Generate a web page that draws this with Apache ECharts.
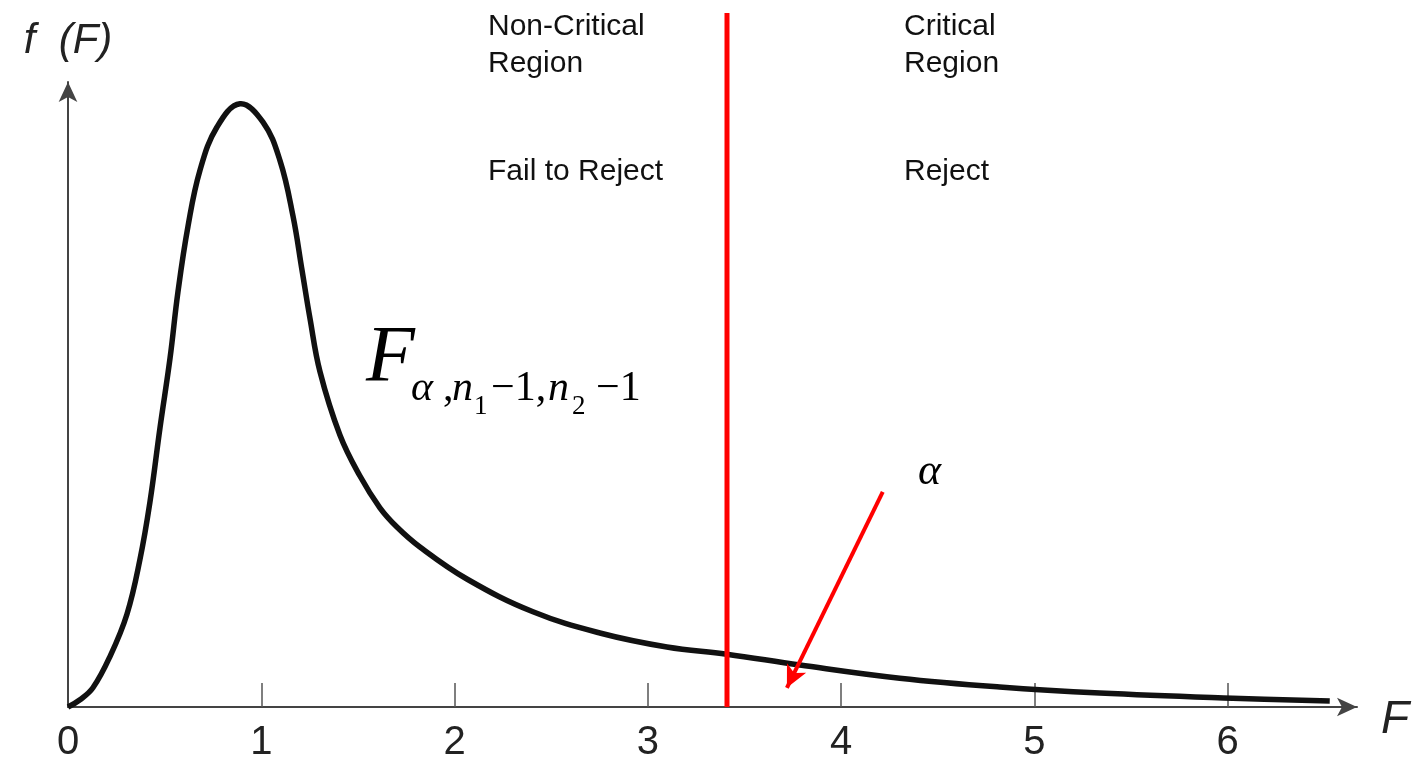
<!DOCTYPE html>
<html>
<head>
<meta charset="utf-8">
<script src="https://cdn.jsdelivr.net/npm/echarts@6/dist/echarts.min.js"></script>
<style>
html,body{margin:0;padding:0;background:#fff;}
#chart{width:1415px;height:770px;}
</style>
</head>
<body>
<div id="chart"></div>
<script>
// F-distribution density curve
const curveX = [0, 0.062, 0.129, 0.217, 0.305, 0.372, 0.424, 0.476, 0.528, 0.569, 0.621, 0.683, 0.771, 0.890, 1.009, 1.097, 1.164, 1.211, 1.252, 1.304, 1.407, 1.510, 1.614, 1.702, 1.821, 2.064, 2.406, 2.752, 3.099, 3.409, 3.787, 4.304, 4.821, 5.339, 6.027, 6.529];
const curveY = [0, 0.009, 0.024, 0.063, 0.116, 0.184, 0.256, 0.349, 0.436, 0.519, 0.601, 0.671, 0.725, 0.754, 0.731, 0.683, 0.614, 0.546, 0.486, 0.419, 0.340, 0.289, 0.249, 0.225, 0.200, 0.160, 0.119, 0.0925, 0.075, 0.066, 0.0525, 0.036, 0.025, 0.0175, 0.011, 0.0075];
// critical value line
const criticalX = [3.41, 3.41];
const criticalY = [0, 0.8675];
// alpha arrow
const arrowFrom = [4.216, 0.269];
const arrowTo = [3.72, 0.024];
// axis ticks / labels
const tickValues = [1, 2, 3, 4, 5, 6];
const tickLabels = [0, 1, 2, 3, 4, 5, 6];

const chart = echarts.init(document.getElementById('chart'), null, {renderer: 'canvas'});
const sans = 'Liberation Sans, Arial, sans-serif';
const serif = 'Liberation Serif, Times New Roman, serif';

const option = {
  animation: false,
  backgroundColor: '#ffffff',
  grid: {left: 68, right: 58, top: 82, bottom: 63, containLabel: false},
  xAxis: {
    type: 'value', min: 0, max: 6.67,
    name: 'F', nameLocation: 'end', nameGap: 24,
    nameTextStyle: {fontFamily: sans, fontStyle: 'italic', fontSize: 46, color: '#222', verticalAlign: 'top', lineHeight: 26},
    axisLine: {show: true, symbol: ['none', 'arrow'], symbolSize: [14, 20], lineStyle: {color: '#444', width: 2}},
    axisTick: {show: true, inside: true, length: 24, customValues: tickValues, lineStyle: {color: '#555', width: 1.5}},
    axisLabel: {show: true, customValues: tickLabels, fontFamily: sans, fontSize: 40, color: '#222', margin: 16},
    splitLine: {show: false}
  },
  yAxis: {
    type: 'value', min: 0, max: 0.78125,
    name: 'f  (F)', nameLocation: 'end', nameGap: 20,
    nameTextStyle: {fontFamily: sans, fontStyle: 'italic', fontSize: 42, color: '#222', align: 'center'},
    axisLine: {show: true, symbol: ['none', 'arrow'], symbolSize: [14, 20], lineStyle: {color: '#444', width: 2}},
    axisTick: {show: false},
    axisLabel: {show: false},
    splitLine: {show: false}
  },
  series: [
    {
      type: 'custom', name: 'density',
      data: [[curveX[0], curveY[0]]],
      renderItem: function (params, api) {
        const pts = curveX.map((x, i) => api.coord([x, curveY[i]]));
        return {
          type: 'polyline',
          shape: {points: pts, smooth: 0.4},
          style: {stroke: '#111', lineWidth: 5.5, fill: null, lineCap: 'butt', lineJoin: 'round'}
        };
      },
      z: 3
    },
    {
      type: 'line', name: 'critical',
      data: criticalX.map((x, i) => [x, criticalY[i]]),
      showSymbol: false, symbol: 'none', clip: false,
      lineStyle: {color: '#ff0000', width: 5},
      z: 4
    },
    {
      type: 'line', name: 'alpha', data: [], clip: false,
      markLine: {
        silent: true, symbol: ['none', 'arrow'], symbolSize: [16, 22],
        label: {show: false},
        lineStyle: {color: '#ff0000', width: 4, type: 'solid'},
        data: [[{coord: arrowFrom}, {coord: arrowTo}]]
      },
      z: 4
    }
  ],
  graphic: [
    {type: 'text', left: 488, top: 8, style: {text: 'Non-Critical\nRegion', font: '30px ' + sans, fill: '#111', lineHeight: 37}},
    {type: 'text', left: 488, top: 157, style: {text: 'Fail to Reject', font: '30px ' + sans, fill: '#111'}},
    {type: 'text', left: 904, top: 8, style: {text: 'Critical\nRegion', font: '30px ' + sans, fill: '#111', lineHeight: 37}},
    {type: 'text', left: 904, top: 157, style: {text: 'Reject', font: '30px ' + sans, fill: '#111'}},
    {type: 'text', x: 366, y: 400, style: {text: 'F', font: 'italic 80px ' + serif, fill: '#000', verticalAlign: 'bottom'}},
    {type: 'text', x: 411, y: 410, style: {text: 'α', font: 'italic 42px ' + serif, fill: '#000', verticalAlign: 'bottom'}},
    {type: 'text', x: 443, y: 410, style: {text: ',', font: '42px ' + serif, fill: '#000', verticalAlign: 'bottom'}},
    {type: 'text', x: 452, y: 410, style: {text: 'n', font: 'italic 42px ' + serif, fill: '#000', verticalAlign: 'bottom'}},
    {type: 'text', x: 474, y: 420, style: {text: '1', font: '27px ' + serif, fill: '#000', verticalAlign: 'bottom'}},
    {type: 'text', x: 491, y: 410, style: {text: '−1,', font: '42px ' + serif, fill: '#000', verticalAlign: 'bottom'}},
    {type: 'text', x: 548, y: 410, style: {text: 'n', font: 'italic 42px ' + serif, fill: '#000', verticalAlign: 'bottom'}},
    {type: 'text', x: 572, y: 420, style: {text: '2', font: '27px ' + serif, fill: '#000', verticalAlign: 'bottom'}},
    {type: 'text', x: 596, y: 410, style: {text: '−1', font: '42px ' + serif, fill: '#000', verticalAlign: 'bottom'}},
    {type: 'text', x: 918, y: 494, style: {text: 'α', font: 'italic 44px ' + serif, fill: '#000', verticalAlign: 'bottom'}}
  ]
};
chart.setOption(option);
</script>
</body>
</html>
